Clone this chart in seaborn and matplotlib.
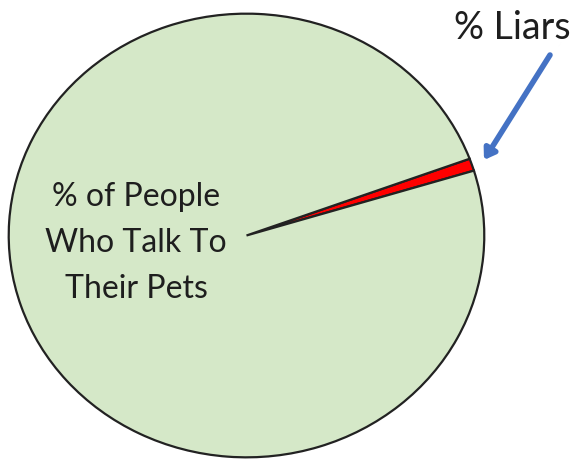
import matplotlib
matplotlib.use("Agg")
import matplotlib.pyplot as plt
import seaborn as sns

# Data
categories = ["% Liars", "% of People\nWho Talk To\nTheir Pets"]
values = [0.9, 99.1]
colors = ["#FF0000", "#D5E8C8"]

sns.set_theme(style="white")
plt.rcParams['font.family'] = ['Lato', 'DejaVu Sans']

fig = plt.figure(figsize=(5.78, 4.59), dpi=100)
fig.patch.set_facecolor("white")
ax = fig.add_axes([8/578, 1/459, 477/578, 445/459])
ax.pie(values, colors=colors, startangle=17, counterclock=True, radius=1,
       wedgeprops=dict(edgecolor="#222222", linewidth=1.6))
ax.set_aspect('auto')
ax.set_xlim(-1.003, 1.003)
ax.set_ylim(-1.003, 1.003)
ax.axis('off')

fig.text(136/578, 1 - 243/459, categories[1], ha='center', va='center',
         fontsize=23, color="#1e1e1e", linespacing=1.65)
fig.text(512/578, 1 - 28/459, categories[0], ha='center', va='center',
         fontsize=27, color="#1e1e1e")

fig.add_artist(matplotlib.patches.FancyArrowPatch(
    (550/578, 1 - 55/459), (484/578, 1 - 160/459), transform=fig.transFigure,
    arrowstyle="-|>,head_length=6,head_width=4", color="#4472C4", linewidth=4,
    shrinkA=0, shrinkB=0))

fig.savefig("out.png", dpi=100, facecolor="white")
